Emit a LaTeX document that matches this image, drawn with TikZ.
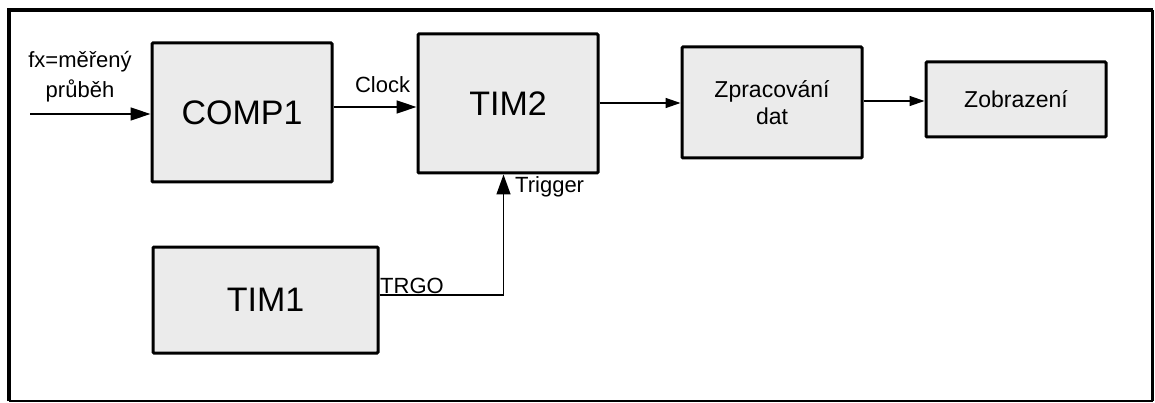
\documentclass[tikz,border=0pt]{standalone}
\usepackage{fontspec}
\setmainfont{Liberation Sans}
\usetikzlibrary{arrows.meta}
\begin{document}
\begin{tikzpicture}[x=1pt,y=-1pt,
  blk/.style={draw=black, line width=3pt, fill=boxgray, rounded corners=1pt, inner sep=0pt, align=center},
  bigtxt/.style={font=\fontsize{34}{38}\selectfont},
  smalltxt/.style={font=\fontsize{23}{27}\selectfont},
  lbl/.style={font=\fontsize{22}{30}\selectfont, inner sep=0pt},
  conn/.style={line width=1.4pt},
  bigarr/.style={conn, -{Triangle[length=20pt,width=13pt]}},
  smlarr/.style={conn, -{Triangle[length=15pt,width=10pt]}}
]
\definecolor{boxgray}{HTML}{EBEBEB}
\useasboundingbox (0,0) rectangle (1155,403);
% outer frame
\draw[line width=3.2pt] (9,401) -- (9,10) -- (1152.5,10);
\draw[line width=2.3pt] (1152.5,10) -- (1152.5,401);
\draw[line width=1.5pt] (9,401) -- (1152.5,401);

% blocks
\node[blk, bigtxt, minimum width=180pt, minimum height=139pt] (comp) at (242,112.5) {COMP1};
\node[blk, bigtxt, minimum width=180pt, minimum height=139pt] (tim2) at (508,103.5) {TIM2};
\node[blk, bigtxt, minimum width=225pt, minimum height=106pt] (tim1) at (265.5,300) {TIM1};
\node[blk, smalltxt, minimum width=180pt, minimum height=111pt] (zpr) at (772,102.5) {Zpracování\\dat};
\node[blk, smalltxt, minimum width=180pt, minimum height=75pt] (zob) at (1016,99.5) {Zobrazení};

% input
\coordinate (in) at (30,114);
\node[lbl, align=center] (fx) at (80,77) {fx=měřený\\průběh};
\draw[bigarr] (in) -- (in -| comp.west);

% clock
\coordinate (clk) at (332,107);
\draw[bigarr] (clk -| comp.east) -- (clk -| tim2.west);
\node[lbl, anchor=base] (clklbl) at (382.5,93) {Clock};

% TIM2 -> Zpracovani
\coordinate (d1) at (600,103);
\draw[smlarr] (d1 -| tim2.east) -- (d1 -| zpr.west);
% Zpracovani -> Zobrazeni
\coordinate (d2) at (862,101);
\draw[smlarr] (d2 -| zpr.east) -- (d2 -| zob.west);

% trigger
\coordinate (trg) at (503.5,295);
\draw[conn, -{Triangle[length=20pt,width=14pt]}] (trg -| tim1.east) -- (trg) -- (trg |- tim2.south);
\node[lbl, anchor=base west] (trglbl) at (515,193) {Trigger};
\node[lbl, anchor=base west] (trgo) at (380,293) {TRGO};
\end{tikzpicture}
\end{document}
